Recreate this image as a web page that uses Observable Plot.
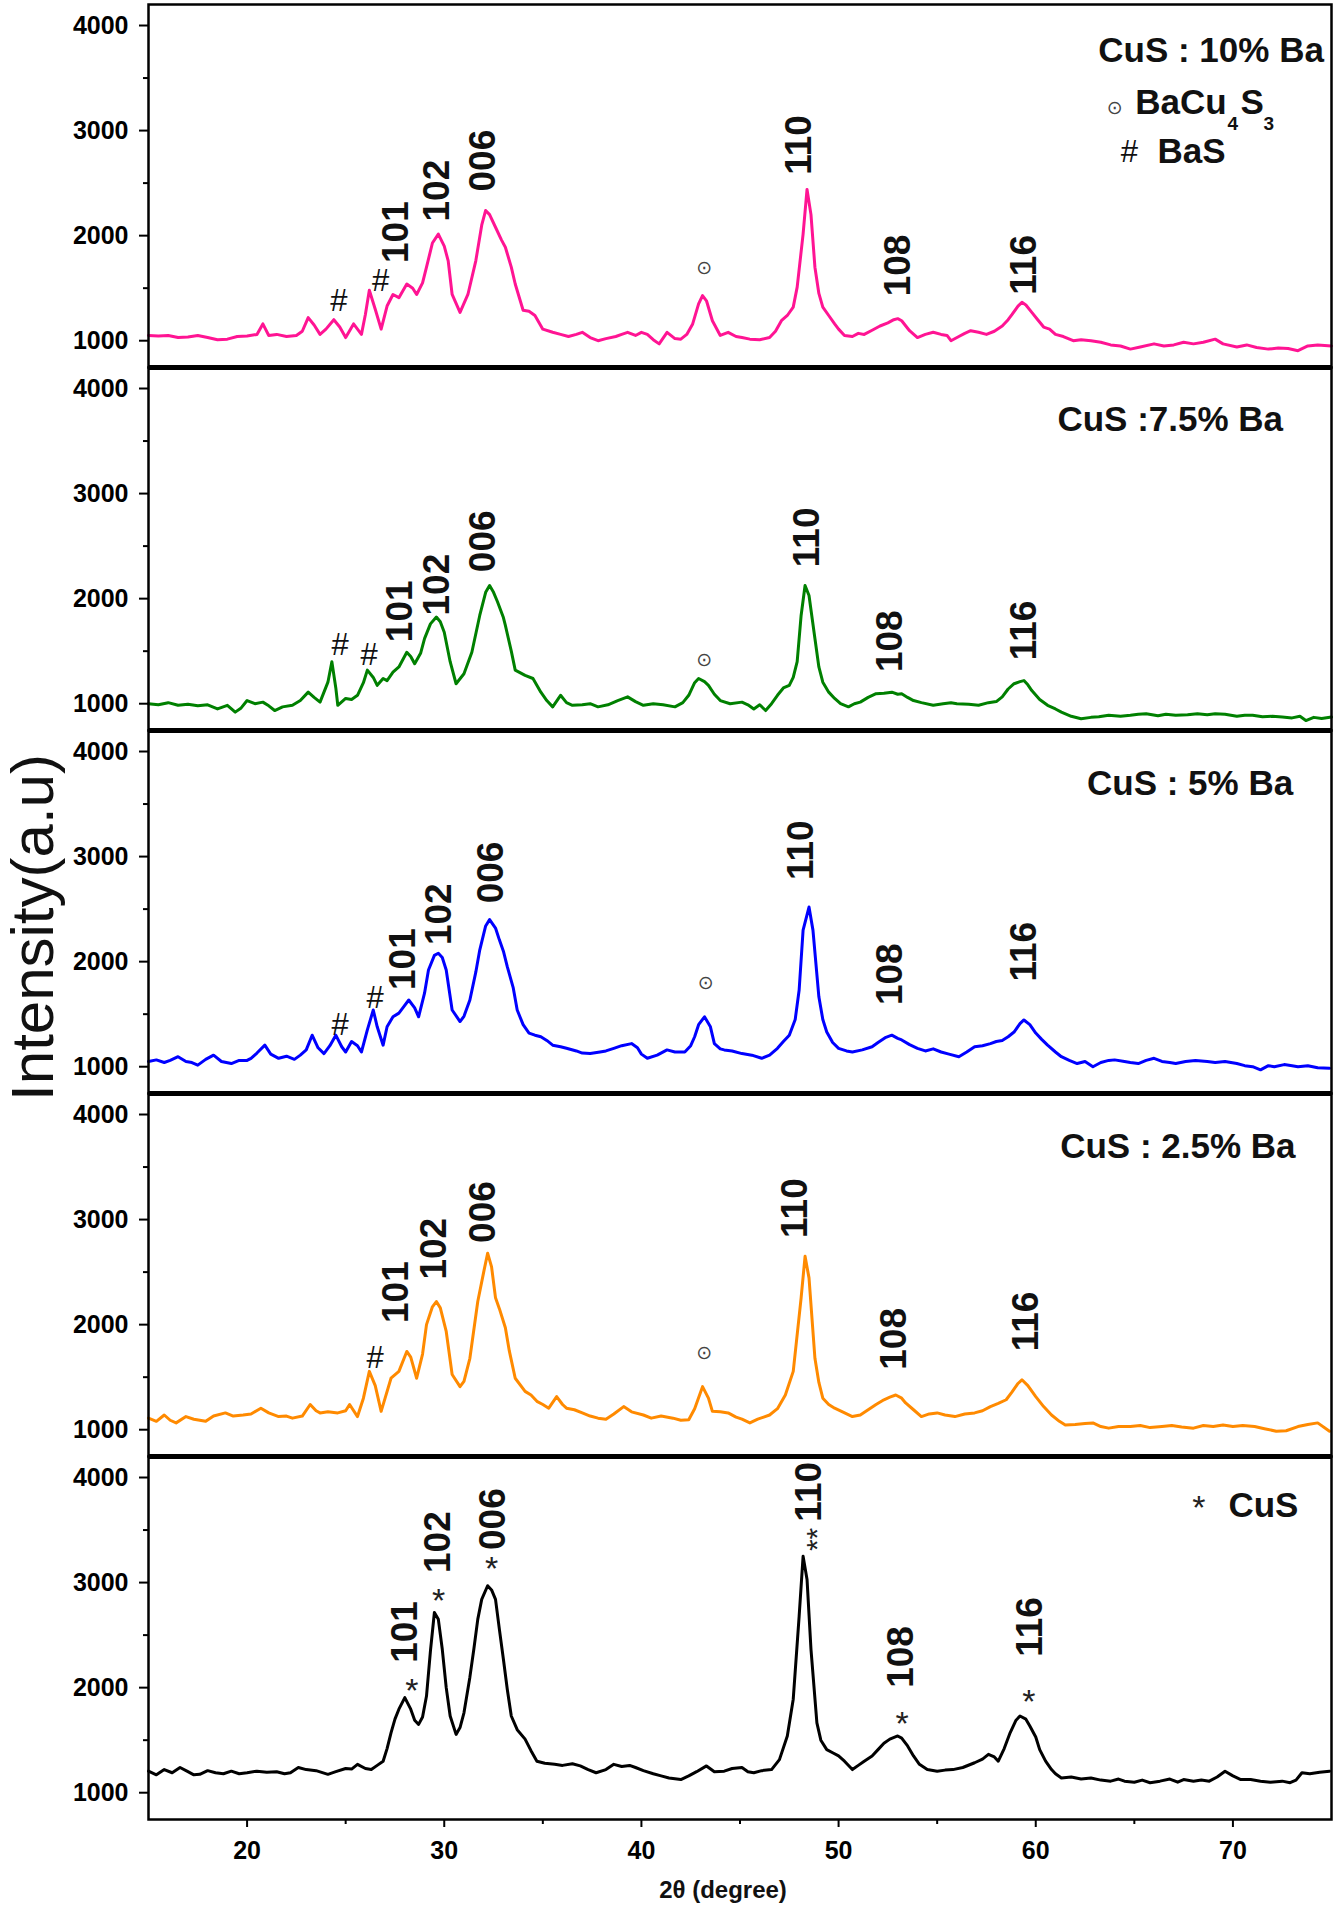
<!DOCTYPE html>
<html>
<head>
<meta charset="utf-8">
<script src="https://cdn.jsdelivr.net/npm/d3@7"></script>
<script src="https://cdn.jsdelivr.net/npm/@observablehq/plot@0.6"></script>
<style>
  html, body { margin: 0; padding: 0; background: #fff; }
  #chart { width: 1335px; height: 1907px; }
</style>
</head>
<body>
<div id="chart"></div>
<script>
// ---------- categories ----------
const panels = ["CuS : 10% Ba", "CuS :7.5% Ba", "CuS : 5% Ba", "CuS : 2.5% Ba", "CuS"];
const colors = ["#ff1493", "#008000", "#0000ff", "#ff8a00", "#000000"];

// ---------- tick labels ----------
const yTicks = [1000, 2000, 3000, 4000];
const yMinorTicks = [1500, 2500, 3500];
const xTicks = [20, 30, 40, 50, 60, 70];
const xMinorTicks = [25, 35, 45, 55, 65];

// ---------- series values: [2θ (degree), intensity (a.u.)] ----------
const ba10 = [[15.0,1050],[15.5,1045],[16.0,1050],[16.5,1030],[17.0,1035],[17.5,1050],[18.0,1030],[18.5,1010],[19.0,1015],[19.5,1040],[20.0,1045],[20.5,1060],[20.8,1160],[21.1,1050],[21.5,1060],[22.0,1040],[22.5,1050],[22.8,1090],[23.1,1220],[23.4,1150],[23.7,1060],[24.0,1110],[24.4,1200],[24.7,1130],[25.0,1030],[25.4,1160],[25.8,1060],[26.0,1250],[26.2,1480],[26.5,1300],[26.8,1110],[27.1,1330],[27.4,1440],[27.7,1410],[28.1,1540],[28.4,1500],[28.6,1440],[28.9,1550],[29.1,1700],[29.4,1930],[29.7,2015],[30.0,1900],[30.2,1760],[30.4,1440],[30.8,1270],[31.2,1440],[31.6,1760],[31.9,2100],[32.1,2240],[32.3,2200],[32.6,2080],[32.9,1960],[33.1,1890],[33.4,1700],[33.6,1540],[34.0,1290],[34.3,1280],[34.6,1240],[35.0,1110],[35.5,1080],[35.9,1060],[36.3,1040],[36.7,1060],[37.0,1080],[37.4,1030],[37.8,1000],[38.2,1020],[38.7,1040],[39.0,1060],[39.3,1080],[39.7,1050],[40.0,1080],[40.3,1060],[40.6,1010],[40.9,970],[41.3,1080],[41.7,1020],[42.0,1015],[42.3,1060],[42.6,1160],[42.9,1350],[43.1,1430],[43.3,1380],[43.6,1190],[44.0,1050],[44.4,1080],[44.8,1040],[45.1,1030],[45.5,1015],[46.0,1010],[46.5,1030],[46.8,1090],[47.1,1190],[47.4,1240],[47.7,1320],[47.9,1510],[48.2,2015],[48.4,2440],[48.6,2200],[48.8,1700],[49.0,1450],[49.2,1320],[49.5,1240],[49.8,1160],[50.0,1110],[50.3,1050],[50.7,1040],[51.0,1070],[51.3,1060],[51.7,1100],[52.1,1140],[52.5,1170],[52.8,1200],[53.0,1210],[53.2,1190],[53.6,1095],[54.0,1030],[54.4,1060],[54.8,1080],[55.2,1060],[55.5,1050],[55.7,1000],[56.1,1040],[56.4,1070],[56.7,1095],[57.1,1080],[57.5,1060],[57.9,1090],[58.3,1140],[58.6,1200],[58.8,1250],[59.1,1330],[59.3,1365],[59.5,1340],[59.8,1270],[60.1,1200],[60.4,1130],[60.7,1110],[61.0,1060],[61.4,1040],[61.9,1000],[62.3,1010],[62.8,1000],[63.3,985],[63.8,960],[64.3,950],[64.8,920],[65.3,940],[66.0,970],[66.5,950],[67.0,960],[67.5,985],[68.0,970],[68.5,985],[69.1,1015],[69.5,970],[70.2,940],[70.7,960],[71.2,935],[71.8,920],[72.3,930],[72.8,925],[73.3,905],[73.8,950],[74.3,960],[75.0,950]];

const ba75 = [[15.0,1000],[15.5,990],[16.0,1010],[16.5,985],[17.0,995],[17.5,980],[18.0,990],[18.5,950],[19.0,985],[19.4,920],[19.7,960],[20.0,1030],[20.4,1000],[20.8,1015],[21.1,980],[21.4,935],[21.8,970],[22.3,985],[22.7,1030],[23.1,1110],[23.4,1060],[23.7,1015],[24.1,1205],[24.3,1400],[24.5,1150],[24.6,985],[25.0,1050],[25.3,1040],[25.6,1080],[25.9,1200],[26.1,1320],[26.4,1250],[26.6,1175],[26.9,1240],[27.1,1220],[27.4,1300],[27.7,1350],[28.1,1490],[28.3,1450],[28.5,1380],[28.8,1480],[29.0,1620],[29.3,1760],[29.6,1825],[29.8,1780],[30.0,1680],[30.3,1400],[30.6,1190],[31.0,1285],[31.4,1490],[31.8,1840],[32.1,2060],[32.3,2125],[32.5,2060],[32.7,1970],[33.0,1820],[33.1,1745],[33.4,1500],[33.6,1320],[34.1,1270],[34.5,1240],[34.9,1110],[35.2,1030],[35.5,970],[35.9,1080],[36.2,1010],[36.5,985],[37.0,990],[37.4,1000],[37.8,970],[38.3,990],[38.8,1030],[39.3,1065],[39.7,1020],[40.1,985],[40.6,1000],[41.1,990],[41.7,970],[42.1,1010],[42.4,1080],[42.7,1200],[42.9,1240],[43.2,1210],[43.4,1175],[43.7,1090],[44.0,1030],[44.5,1000],[45.1,1015],[45.4,990],[45.7,950],[46.0,990],[46.3,935],[46.6,1000],[46.9,1080],[47.2,1150],[47.5,1175],[47.7,1250],[47.9,1400],[48.1,1840],[48.3,2125],[48.5,2030],[48.8,1620],[49.0,1350],[49.2,1205],[49.5,1110],[49.8,1050],[50.1,1000],[50.5,970],[50.8,1000],[51.1,1015],[51.5,1060],[51.9,1095],[52.3,1100],[52.7,1110],[53.0,1090],[53.2,1095],[53.5,1060],[53.8,1030],[54.2,1010],[54.8,985],[55.3,1000],[55.7,1010],[56.0,1000],[56.6,995],[57.1,985],[57.6,1010],[58.0,1020],[58.3,1065],[58.6,1140],[58.9,1190],[59.2,1210],[59.4,1220],[59.6,1180],[59.8,1125],[60.2,1040],[60.6,985],[61.0,950],[61.3,920],[61.8,880],[62.3,857],[62.8,870],[63.2,875],[63.7,890],[64.3,880],[64.8,890],[65.2,900],[65.6,905],[66.2,885],[66.6,900],[67.1,890],[67.7,895],[68.2,905],[68.7,895],[69.1,905],[69.6,900],[70.2,880],[70.6,890],[71.0,890],[71.5,875],[72.0,880],[72.5,873],[73.0,865],[73.4,880],[73.7,840],[74.1,870],[74.5,860],[75.0,873]];

const ba5 = [[15.0,1050],[15.4,1065],[15.8,1040],[16.1,1060],[16.5,1095],[16.9,1050],[17.2,1040],[17.5,1015],[17.9,1070],[18.3,1110],[18.7,1050],[19.2,1030],[19.6,1060],[20.0,1060],[20.2,1080],[20.5,1130],[20.9,1205],[21.2,1120],[21.6,1080],[22.0,1100],[22.4,1070],[22.7,1110],[23.0,1160],[23.3,1300],[23.6,1180],[23.9,1125],[24.2,1200],[24.5,1300],[24.8,1190],[25.0,1140],[25.3,1240],[25.6,1200],[25.8,1140],[26.1,1350],[26.4,1540],[26.6,1380],[26.9,1205],[27.1,1380],[27.4,1475],[27.7,1510],[27.9,1560],[28.2,1635],[28.5,1560],[28.7,1475],[29.0,1700],[29.2,1920],[29.5,2060],[29.7,2080],[29.9,2040],[30.1,1920],[30.4,1540],[30.8,1430],[31.0,1480],[31.3,1635],[31.6,1900],[31.8,2110],[32.1,2340],[32.3,2400],[32.6,2320],[32.8,2205],[33.0,2100],[33.2,1950],[33.5,1750],[33.7,1540],[34.0,1400],[34.3,1320],[34.6,1300],[34.9,1285],[35.2,1250],[35.5,1205],[35.9,1190],[36.2,1175],[36.7,1150],[37.0,1130],[37.4,1125],[37.9,1140],[38.2,1150],[38.6,1175],[39.0,1200],[39.5,1220],[39.8,1180],[40.0,1120],[40.3,1080],[40.8,1110],[41.3,1160],[41.7,1140],[42.2,1140],[42.5,1200],[42.7,1285],[42.9,1400],[43.2,1475],[43.5,1380],[43.7,1220],[44.0,1170],[44.2,1160],[44.6,1150],[45.1,1125],[45.6,1110],[46.1,1080],[46.5,1110],[46.9,1175],[47.2,1240],[47.5,1300],[47.8,1450],[48.0,1730],[48.2,2300],[48.5,2520],[48.7,2300],[49.0,1665],[49.2,1450],[49.4,1330],[49.7,1230],[50.0,1175],[50.4,1150],[50.7,1140],[51.2,1160],[51.7,1190],[52.0,1230],[52.4,1280],[52.7,1300],[53.0,1270],[53.2,1255],[53.6,1210],[54.0,1175],[54.4,1150],[54.8,1170],[55.2,1140],[55.6,1120],[56.1,1095],[56.5,1140],[56.9,1190],[57.3,1200],[57.7,1220],[58.0,1240],[58.3,1250],[58.6,1285],[58.9,1330],[59.2,1410],[59.4,1445],[59.7,1400],[60.0,1320],[60.3,1260],[60.6,1205],[61.0,1140],[61.3,1095],[61.7,1060],[62.1,1030],[62.5,1050],[62.9,1000],[63.3,1040],[63.7,1060],[64.0,1065],[64.5,1050],[64.8,1040],[65.2,1030],[65.6,1060],[66.0,1080],[66.4,1050],[66.8,1040],[67.1,1030],[67.6,1050],[68.1,1060],[68.7,1050],[69.1,1040],[69.6,1050],[70.2,1030],[70.6,1010],[71.0,1000],[71.4,970],[71.8,1010],[72.1,1000],[72.6,1020],[73.0,1010],[73.3,1000],[73.8,1010],[74.3,990],[74.9,985]];

const ba25 = [[15.0,1110],[15.4,1080],[15.8,1140],[16.1,1090],[16.4,1065],[16.9,1125],[17.3,1100],[17.9,1080],[18.3,1130],[18.9,1160],[19.3,1130],[19.8,1140],[20.2,1150],[20.7,1205],[21.1,1160],[21.6,1125],[22.0,1130],[22.3,1110],[22.8,1130],[23.2,1240],[23.5,1180],[23.7,1160],[24.1,1170],[24.6,1160],[25.0,1180],[25.2,1240],[25.6,1125],[25.9,1300],[26.2,1555],[26.5,1420],[26.8,1175],[27.0,1300],[27.3,1490],[27.7,1555],[28.1,1745],[28.3,1690],[28.6,1490],[28.9,1720],[29.1,2000],[29.4,2170],[29.6,2220],[29.8,2160],[30.1,1935],[30.4,1525],[30.8,1410],[31.0,1460],[31.3,1680],[31.7,2220],[32.0,2500],[32.2,2680],[32.4,2550],[32.6,2255],[32.8,2150],[33.1,1970],[33.3,1750],[33.6,1490],[34.1,1365],[34.4,1330],[34.7,1270],[35.0,1240],[35.3,1205],[35.7,1315],[36.0,1240],[36.2,1205],[36.6,1190],[37.0,1160],[37.4,1130],[37.8,1110],[38.2,1100],[38.6,1150],[39.1,1220],[39.5,1170],[40.1,1140],[40.5,1110],[41.0,1130],[41.6,1110],[42.0,1090],[42.4,1095],[42.7,1200],[43.1,1410],[43.4,1300],[43.6,1175],[44.0,1170],[44.4,1160],[44.8,1120],[45.1,1100],[45.5,1065],[45.9,1100],[46.2,1120],[46.5,1140],[46.9,1200],[47.3,1330],[47.7,1555],[48.1,2255],[48.3,2650],[48.5,2445],[48.8,1680],[49.0,1450],[49.2,1300],[49.5,1240],[49.8,1205],[50.2,1170],[50.7,1125],[51.1,1140],[51.5,1190],[51.9,1240],[52.3,1285],[52.6,1310],[52.9,1330],[53.2,1300],[53.4,1255],[53.8,1190],[54.2,1125],[54.6,1150],[55.0,1160],[55.4,1140],[55.9,1125],[56.4,1150],[56.9,1160],[57.3,1180],[57.7,1220],[58.1,1250],[58.5,1285],[58.8,1360],[59.1,1440],[59.3,1475],[59.6,1420],[60.0,1315],[60.4,1220],[60.8,1140],[61.2,1080],[61.5,1045],[62.0,1050],[62.5,1060],[62.9,1065],[63.3,1030],[63.7,1015],[64.2,1030],[64.8,1030],[65.3,1040],[65.8,1020],[66.4,1030],[66.9,1040],[67.4,1025],[68.0,1015],[68.5,1040],[69.0,1030],[69.5,1045],[70.0,1030],[70.5,1040],[71.1,1030],[71.6,1010],[72.2,985],[72.7,990],[73.3,1030],[73.8,1050],[74.3,1065],[74.9,985]];

const cus = [[15.0,1205],[15.4,1170],[15.8,1220],[16.2,1190],[16.6,1240],[17.0,1200],[17.3,1170],[17.6,1175],[18.0,1210],[18.4,1190],[18.8,1180],[19.2,1205],[19.6,1180],[20.0,1190],[20.5,1205],[21.0,1195],[21.5,1200],[21.9,1180],[22.2,1190],[22.6,1240],[23.0,1220],[23.5,1210],[24.1,1175],[24.5,1200],[25.0,1230],[25.3,1225],[25.6,1270],[26.0,1230],[26.3,1220],[26.6,1260],[26.9,1300],[27.1,1420],[27.3,1570],[27.5,1700],[27.7,1795],[28.0,1905],[28.3,1795],[28.5,1690],[28.7,1650],[28.9,1720],[29.1,1920],[29.3,2350],[29.5,2715],[29.7,2650],[29.9,2365],[30.1,2000],[30.3,1730],[30.6,1555],[30.8,1620],[31.0,1760],[31.3,2100],[31.5,2365],[31.7,2650],[31.9,2840],[32.2,2970],[32.4,2930],[32.6,2840],[32.8,2550],[33.0,2270],[33.2,1980],[33.4,1730],[33.7,1600],[34.1,1510],[34.4,1400],[34.7,1300],[35.1,1280],[35.6,1270],[36.0,1260],[36.5,1275],[36.9,1255],[37.3,1220],[37.7,1190],[38.2,1220],[38.6,1270],[39.0,1250],[39.4,1260],[39.7,1240],[40.1,1210],[40.6,1180],[41.0,1160],[41.4,1140],[42.0,1125],[42.4,1160],[42.8,1200],[43.3,1255],[43.7,1200],[44.2,1205],[44.6,1230],[45.1,1240],[45.4,1200],[45.7,1190],[46.1,1210],[46.6,1220],[47.0,1315],[47.4,1540],[47.7,1890],[48.0,2680],[48.2,3250],[48.4,3030],[48.6,2365],[48.9,1665],[49.1,1500],[49.4,1410],[49.7,1380],[50.0,1350],[50.3,1300],[50.7,1220],[51.0,1260],[51.3,1300],[51.7,1350],[52.0,1410],[52.3,1470],[52.6,1510],[53.0,1540],[53.2,1520],[53.5,1445],[53.8,1350],[54.1,1270],[54.5,1220],[55.0,1205],[55.4,1215],[55.8,1220],[56.3,1240],[56.9,1285],[57.3,1320],[57.6,1365],[57.9,1340],[58.1,1300],[58.4,1420],[58.7,1570],[59.0,1690],[59.2,1730],[59.5,1700],[59.7,1635],[60.0,1530],[60.2,1410],[60.5,1300],[60.8,1220],[61.0,1180],[61.3,1140],[61.8,1150],[62.3,1130],[62.8,1140],[63.3,1120],[63.8,1110],[64.2,1130],[64.5,1110],[65.0,1100],[65.4,1120],[65.8,1095],[66.3,1110],[66.8,1130],[67.2,1100],[67.5,1125],[68.0,1110],[68.4,1120],[68.8,1110],[69.2,1150],[69.6,1205],[70.0,1160],[70.4,1125],[70.9,1125],[71.4,1110],[71.9,1100],[72.5,1110],[72.9,1095],[73.2,1120],[73.5,1190],[73.9,1180],[74.4,1195],[74.9,1205]];

const series = [ba10, ba75, ba5, ba25, cus];

// ---------- annotations: [panel index, 2θ, intensity, text] ----------
const hklLabels = [
  [0, 27.54, 1740, "101"], [0, 29.66, 2135, "102"], [0, 31.99, 2420, "006"], [0, 48.01, 2579, "110"], [0, 53.04, 1422, "108"], [0, 59.41, 1438, "116"],
  [1, 27.74, 1586, "101"], [1, 29.66, 1840, "102"], [1, 31.99, 2252, "006"], [1, 48.40, 2299, "110"], [1, 52.64, 1301, "108"], [1, 59.41, 1413, "116"],
  [2, 27.93, 1730, "101"], [2, 29.74, 2158, "102"], [2, 32.37, 2555, "006"], [2, 48.12, 2777, "110"], [2, 52.64, 1587, "108"], [2, 59.41, 1810, "116"],
  [3, 27.54, 2016, "101"], [3, 29.47, 2429, "102"], [3, 31.99, 2778, "006"], [3, 47.82, 2825, "110"], [3, 52.83, 1571, "108"], [3, 59.49, 1746, "116"],
  [4, 28.00, 2236, "101"], [4, 29.70, 3091, "102"], [4, 32.46, 3310, "006"], [4, 48.50, 3580, "110"], [4, 53.17, 1998, "108"], [4, 59.70, 2294, "116"]
];
const baSMarks = [[0, 24.65, 1375], [0, 26.77, 1565], [1, 24.72, 1555], [1, 26.19, 1466], [2, 24.72, 1396], [2, 26.50, 1650], [3, 26.50, 1682], [0, 64.75, 2791]];
const baCu4S3Marks = [[0, 43.18, 1692], [1, 43.18, 1413], [2, 43.26, 1793], [3, 43.18, 1730], [0, 64.01, 3220]];
const cusMarks = [[4, 28.36, 2056], [4, 29.72, 2905], [4, 32.40, 3215], [4, 53.22, 1741], [4, 59.65, 1950], [4, 68.27, 3793]];
const cusDoubleMark = [[4, 48.50, 3300, "**"]];
const legendTitles = [[0, 63.17, 3648, "CuS : 10% Ba"], [1, 61.10, 3600, "CuS :7.5% Ba"], [2, 62.60, 3587, "CuS : 5% Ba"], [3, 61.24, 3587, "CuS : 2.5% Ba"], [4, 69.77, 3622, "CuS"]];
const legendPhases = [[0, 65.05, 3162, "BaCu"], [0, 70.38, 3162, "S"], [0, 66.17, 2696, "BaS"]];
const legendSubscripts = [[0, 69.72, 3001, "4"], [0, 71.55, 3001, "3"]];

// ---------- layout ----------
const yDomain = [745, 4200];
const font = "'Liberation Sans', Arial, Helvetica, sans-serif";
const P = d => panels[d[0]];

const lineMarks = series.map((s, i) => Plot.line(s, {
  x: d => d[0], y: d => d[1], fy: () => panels[i],
  stroke: colors[i], strokeWidth: 3, strokeLinejoin: "round"
}));

const chart = Plot.plot({
  width: 1335,
  height: 1907,
  marginLeft: 148,
  marginRight: 4,
  marginTop: 4,
  marginBottom: 88,
  x: {domain: [15, 75]},
  y: {domain: yDomain},
  fy: {domain: panels, padding: 0, axis: null},
  style: {fontFamily: font, background: "white", color: "black"},
  marks: [
    ...lineMarks,
    Plot.frame({stroke: "black", strokeWidth: 2.5}),
    Plot.ruleY(panels.slice(1), {y: () => yDomain[1], fy: d => d, stroke: "black", strokeWidth: 5}),
    Plot.axisY({ticks: yTicks, tickSize: 9, tickPadding: 11, tickFormat: d => String(d), fontSize: 25, fontWeight: "bold", strokeWidth: 2, label: null}),
    Plot.axisY({ticks: yMinorTicks, tickSize: 5, tickFormat: () => "", strokeWidth: 2, label: null}),
    Plot.axisX({ticks: xTicks, tickSize: 8, tickPadding: 14, tickFormat: d => String(d), fontSize: 25, fontWeight: "bold", strokeWidth: 2, label: null}),
    Plot.axisX({ticks: xMinorTicks, tickSize: 5, tickFormat: () => "", strokeWidth: 2, label: null}),
    Plot.text(hklLabels, {x: d => d[1], y: d => d[2], fy: P, text: d => d[3], rotate: -90, textAnchor: "start", lineAnchor: "middle", fontSize: 37, fontWeight: "bold", fill: "#111"}),
    Plot.text(baSMarks, {x: d => d[1], y: d => d[2], fy: P, text: () => "#", lineAnchor: "middle", fontSize: 31, fill: "#111"}),
    Plot.text(baCu4S3Marks, {x: d => d[1], y: d => d[2], fy: P, text: () => "⊙", lineAnchor: "middle", fontSize: 19, fill: "#444", fontFamily: "'DejaVu Sans', sans-serif"}),
    Plot.text(cusMarks, {x: d => d[1], y: d => d[2], fy: P, text: () => "*", lineAnchor: "middle", dy: 9, fontSize: 34, fill: "#222"}),
    Plot.text(cusDoubleMark, {x: d => d[1], y: d => d[2], fy: P, text: d => d[3], rotate: -90, textAnchor: "start", lineAnchor: "middle", dx: 8, fontSize: 30, fill: "#222"}),
    Plot.text(legendTitles, {x: d => d[1], y: d => d[2], fy: P, text: d => d[3], textAnchor: "start", lineAnchor: "bottom", fontSize: 35, fontWeight: "bold", fill: "#111", clip: true}),
    Plot.text(legendPhases, {x: d => d[1], y: d => d[2], fy: P, text: d => d[3], textAnchor: "start", lineAnchor: "bottom", fontSize: 35, fontWeight: "bold", fill: "#111"}),
    Plot.text(legendSubscripts, {x: d => d[1], y: d => d[2], fy: P, text: d => d[3], textAnchor: "start", lineAnchor: "bottom", fontSize: 19, fontWeight: "bold", fill: "#111"}),
    Plot.text(["Intensity(a.u)"], {fy: () => panels[2], frameAnchor: "left", text: d => d, rotate: -90, textAnchor: "middle", lineAnchor: "bottom", dx: -96, dy: 15.5, fontSize: 60, fill: "#111"}),
    Plot.text(["2θ (degree)"], {fy: () => panels[4], frameAnchor: "bottom", text: d => d, textAnchor: "middle", lineAnchor: "middle", dx: -17, dy: 71, fontSize: 24, fontWeight: "bold", fill: "#111"})
  ]
});
document.getElementById("chart").append(chart);
</script>
</body>
</html>
